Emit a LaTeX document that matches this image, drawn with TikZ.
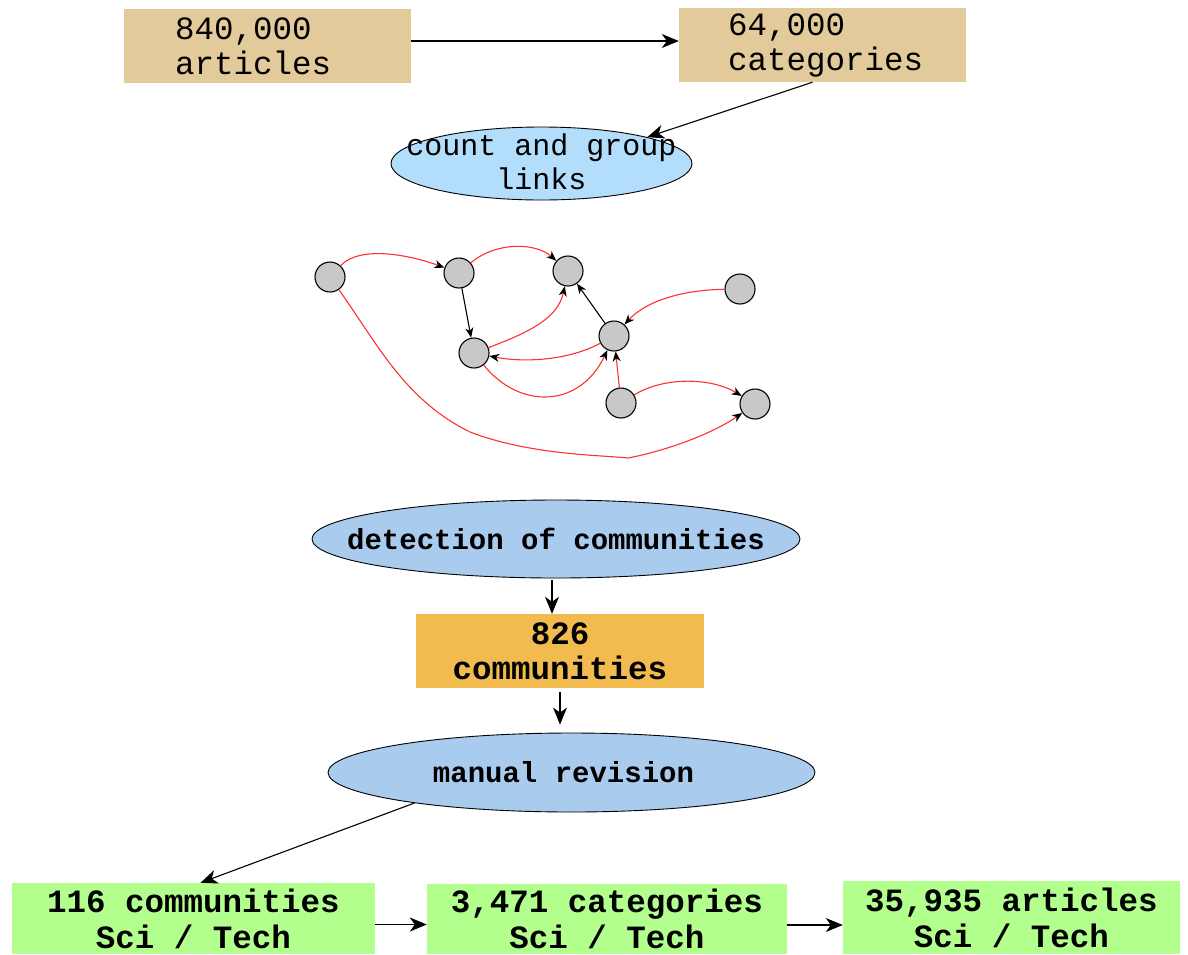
\documentclass[tikz,border=0pt]{standalone}
\usepackage{fontspec}
\usetikzlibrary{shapes.geometric,arrows.meta,calc}
\newfontfamily\monofam{Liberation Mono}
\definecolor{tanbox}{HTML}{E2CA9B}
\definecolor{lightblue}{HTML}{B3DEFB}
\definecolor{midblue}{HTML}{A9CBEE}
\definecolor{orangebox}{HTML}{F2BB50}
\definecolor{greenbox}{HTML}{B2FF8E}
\definecolor{nodegray}{HTML}{C8C8C8}
\definecolor{edgered}{HTML}{FF3030}
\begin{document}
\begin{tikzpicture}[x=1pt,y=-1pt,
  tanstyle/.style={fill=tanbox, draw=none, inner ysep=0pt, minimum height=74pt, align=left,
    font=\monofam\fontsize{32.5}{35}\selectfont},
  ellstyle/.style={ellipse, draw=black, line width=0.9pt, inner sep=0pt},
  greenstyle/.style={fill=greenbox, draw=none, inner sep=0pt, align=center,
    font=\monofam\bfseries\fontsize{32.5}{36}\selectfont},
  gnode/.style={circle, fill=nodegray, draw=black, line width=1.1pt, minimum size=30pt, inner sep=0pt},
  arr/.style={-{Stealth[length=17pt,width=14pt,inset=5pt]}, line width=1.1pt, black},
  garr/.style={-{Stealth[length=10pt,width=8pt,inset=3pt]}, line width=1.1pt, black},
  rarr/.style={-{Stealth[length=10pt,width=8pt,inset=3pt,color=black]}, line width=1.1pt, edgered},
]
\useasboundingbox (0,0) rectangle (1188,954);

% top boxes
\node[tanstyle, text width=185pt, inner xsep=51pt] (A) at (267.5,46) {840,000\\articles};
\node[tanstyle, text width=189pt, inner xsep=49pt] (B) at (822.5,45) {64,000\\categories\\[-8pt]};
\node[ellstyle, fill=lightblue, minimum width=301pt, minimum height=73pt,
  label={[font=\monofam\fontsize{30}{34}\selectfont, align=center, yshift=2pt]center:count and group\\links}] (cnt) at (541.5,163.5) {};

\draw[arr] (A.east |- 0,41) -- (B.west |- 0,41);
\draw[arr] ([xshift=-10pt]B.south) -- (cnt.14);

% graph
\node[gnode] (n1) at (330,277) {};
\node[gnode] (n2) at (459,273) {};
\node[gnode] (n3) at (568,271) {};
\node[gnode] (n4) at (740,289) {};
\node[gnode] (n5) at (614,336) {};
\node[gnode] (n6) at (474,353) {};
\node[gnode] (n7) at (621,403) {};
\node[gnode] (n8) at (755,404) {};

\draw[rarr] (n1) .. controls (360,245) and (410,255) .. (n2);
\draw[rarr] (n2) .. controls (495,242) and (535,242) .. (n3);
\draw[garr] (n2) -- (n6);
\draw[rarr] (n6) .. controls (530,332) and (558,318) .. (n3);
\draw[garr] (n5) -- (n3);
\draw[rarr] (n4) .. controls (680,290) and (645,302) .. (n5);
\draw[rarr] (n5) .. controls (565,362) and (520,362) .. (n6);
\draw[rarr] (n6) .. controls (520,410) and (580,408) .. (n5);
\draw[rarr] (n7) -- (n5);
\draw[rarr] (n7) .. controls (665,376) and (712,378) .. (n8);
\draw[rarr] (n1) .. controls (378,345) and (405,400) .. (470,432)
  .. controls (530,455) and (600,455) .. (628,458)
  .. controls (670,450) and (715,432) .. (n8);

% community detection
\node[ellstyle, fill=midblue, minimum width=488pt, minimum height=78pt,
  label={[font=\monofam\bfseries\fontsize{29}{34}\selectfont]center:detection of communities}] (det) at (556,539) {};
\node[fill=orangebox, draw=none, inner sep=0pt, minimum width=288pt, minimum height=74pt, align=center,
  font=\monofam\bfseries\fontsize{32.5}{35}\selectfont] (com) at (560,651) {826\\communities};
\node[ellstyle, fill=midblue, minimum width=487pt, minimum height=79pt,
  label={[font=\monofam\bfseries\fontsize{29}{34}\selectfont, xshift=-8pt]center:manual revision}] (rev) at (571.5,772.5) {};

\draw[arr, shorten <=2pt] ([xshift=-4pt]det.south) -- ([xshift=-8pt]com.north);
\draw[arr, shorten <=4pt, shorten >=8pt] (com.south) -- (com.south |- rev.north);

% bottom boxes
\node[greenstyle, minimum width=363pt, minimum height=71pt] (c1) at (193.5,918.5) {116 communities\\Sci / Tech};
\node[greenstyle, minimum width=360pt, minimum height=70pt] (c2) at (607,919) {3,471 categories\\Sci / Tech};
\node[greenstyle, minimum width=337pt, minimum height=73pt] (c3) at (1011.5,917.5) {35,935 articles\\Sci / Tech};

\draw[arr] (rev.191) -- ([xshift=7pt]c1.north);
\draw[arr] ([yshift=-6pt]c1.east) -- ([yshift=-6pt]c1.east -| c2.west);
\draw[arr] ([yshift=-6pt]c2.east) -- ([yshift=-6pt]c2.east -| c3.west);
\end{tikzpicture}
\end{document}
